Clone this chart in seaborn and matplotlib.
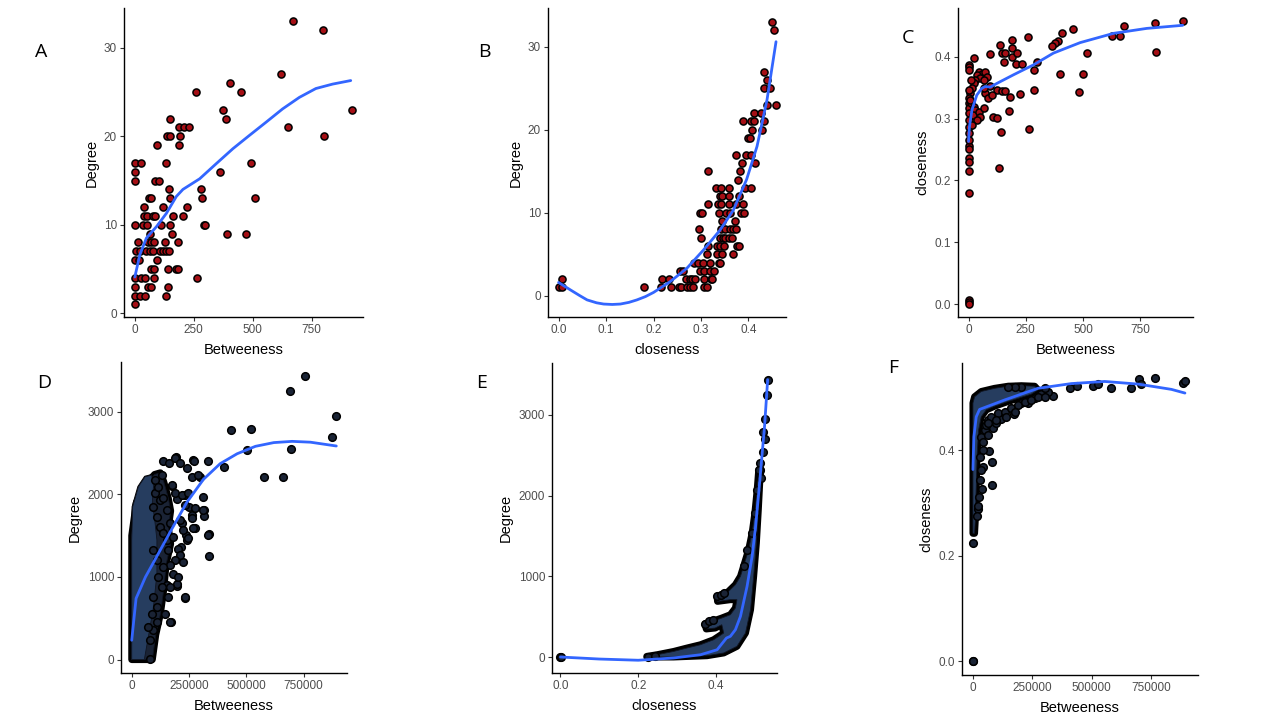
import numpy as np
import pandas as pd
import matplotlib
matplotlib.use('Agg')
import matplotlib.pyplot as plt
import seaborn as sns

# ---------------- top row (small network) ----------------
# A: Betweeness vs Degree
a_btw = [670, 800, 618, 402, 258, 450, 374, 921, 385, 649, 804, 151, 138, 151, 186, 210, 230, 190, 188, 94,
         0, 25, 134, 494, 0, 0, 85, 103, 361, 145, 279, 151, 62, 70, 285, 509, 38, 118, 223, 37,
         52, 75, 85, 162, 204, 0, 35, 52, 113, 151, 292, 297, 393, 471, 63, 159, 14, 56, 70, 82,
         127, 185, 4, 21, 49, 63, 78, 106, 118, 131, 145, 0, 18, 92, 70, 80, 141, 176, 183, 0,
         28, 42, 80, 264, 0, 56, 68, 141, 0, 21, 42, 131, 0]
a_deg = [33, 32, 27, 26, 25, 25, 23, 23, 22, 21, 20, 22, 20, 20, 21, 21, 21, 20, 19, 19,
         17, 17, 17, 17, 16, 15, 15, 15, 16, 14, 14, 13, 13, 13, 13, 13, 12, 12, 12, 11,
         11, 11, 11, 11, 11, 10, 10, 10, 10, 10, 10, 10, 9, 9, 9, 9, 8, 8, 8, 8,
         8, 8, 7, 7, 7, 7, 7, 7, 7, 7, 7, 6, 6, 6, 5, 5, 5, 5, 5, 4,
         4, 4, 4, 4, 3, 3, 3, 3, 2, 2, 2, 2, 1]
a_fit_x = [0, 21, 49, 92, 134, 176, 204, 275, 345, 416, 486, 557, 627, 698, 768, 839, 916]
a_fit_y = [4.1, 6.6, 8.5, 9.8, 11.3, 13.2, 14.0, 15.2, 16.9, 18.6, 20.1, 21.6, 23.1, 24.4, 25.4, 25.9, 26.3]

# B: closeness vs Degree
b_close = [0.450, 0.454, 0.433, 0.439, 0.432, 0.446, 0.458, 0.440, 0.411, 0.427,
           0.388, 0.406, 0.412, 0.433, 0.408, 0.428, 0.398, 0.404,
           0.373, 0.395, 0.406, 0.386, 0.414, 0.314, 0.383, 0.378,
           0.332, 0.342, 0.358, 0.393, 0.406, 0.340, 0.345, 0.359, 0.380,
           0.314, 0.335, 0.342, 0.359, 0.373, 0.389,
           0.297, 0.302, 0.338, 0.352, 0.360, 0.385, 0.391, 0.345, 0.371,
           0.296, 0.343, 0.350, 0.361, 0.367, 0.374,
           0.301, 0.339, 0.346, 0.351, 0.359, 0.365,
           0.314, 0.334, 0.341, 0.349, 0.375, 0.381,
           0.312, 0.333, 0.344, 0.368,
           0.286, 0.293, 0.304, 0.318, 0.337, 0.340,
           0.256, 0.261, 0.297, 0.307, 0.318, 0.328,
           0.007, 0.218, 0.232, 0.268, 0.276, 0.281, 0.287, 0.307, 0.321, 0.324,
           0.0, 0.007, 0.179, 0.216, 0.236, 0.253, 0.258, 0.270, 0.277, 0.284, 0.307, 0.312]
b_deg = [33, 32, 27, 26, 25, 25, 23, 23, 22, 22,
         21, 21, 21, 21, 20, 20, 19, 19,
         17, 17, 17, 16, 16, 15, 15, 14,
         13, 13, 13, 13, 13, 12, 12, 12, 12,
         11, 11, 11, 11, 11, 11,
         10, 10, 10, 10, 10, 10, 10, 9, 9,
         8, 8, 8, 8, 8, 8,
         7, 7, 7, 7, 7, 7,
         6, 6, 6, 6, 6, 6,
         5, 5, 5, 5,
         4, 4, 4, 4, 4, 4,
         3, 3, 3, 3, 3, 3,
         2, 2, 2, 2, 2, 2, 2, 2, 2, 2,
         1, 1, 1, 1, 1, 1, 1, 1, 1, 1, 1, 1]
b_fit_x = [0.0, 0.025, 0.045, 0.06, 0.08, 0.095, 0.113, 0.13, 0.148, 0.165, 0.183, 0.2, 0.235, 0.27, 0.305,
           0.34, 0.368, 0.396, 0.418, 0.439, 0.458]
b_fit_y = [1.6, 0.7, 0.0, -0.5, -0.85, -1.0, -1.05, -1.0, -0.8, -0.5, -0.1, 0.4, 1.7, 3.3, 5.5,
           7.9, 10.3, 14.0, 18.0, 23.6, 30.6]

# C: Betweeness vs closeness
c_btw = [936, 814, 819, 680, 660, 629, 456, 408, 390, 379, 366, 262, 517, 502, 400, 481, 287, 299, 284, 266,
         133, 0, 0, 0, 0, 0, 0, 0, 0, 0,
         0, 0, 0, 25, 95, 138, 146, 160, 153, 190, 190, 211, 208, 233, 189,
         44, 58, 73, 80, 37, 51, 66, 29, 22, 15, 7,
         0, 0, 0, 0, 0, 0, 0, 0, 0,
         10, 22, 29, 19, 44, 66, 51, 37, 15,
         95, 124, 146, 160, 73, 87, 66, 102, 182, 223, 109, 124, 179, 141, 10, 5]
c_close = [0.458, 0.454, 0.408, 0.450, 0.434, 0.434, 0.445, 0.439, 0.425, 0.423, 0.417, 0.432, 0.406, 0.372,
           0.372, 0.343, 0.346, 0.391, 0.379, 0.283,
           0.220, 0.179, 0.216, 0.236, 0.230, 0.255, 0.251, 0.006, 0.003, 0.0,
           0.387, 0.384, 0.379, 0.398, 0.405, 0.419, 0.406, 0.406, 0.392, 0.400, 0.414, 0.406, 0.389, 0.389, 0.428,
           0.376, 0.373, 0.375, 0.368, 0.371, 0.365, 0.363, 0.363, 0.357, 0.349, 0.341,
           0.346, 0.333, 0.325, 0.317, 0.309, 0.298, 0.287, 0.276, 0.266,
           0.325, 0.319, 0.314, 0.306, 0.311, 0.317, 0.303, 0.298, 0.290,
           0.352, 0.346, 0.344, 0.344, 0.341, 0.333, 0.349, 0.338, 0.335, 0.340, 0.303, 0.301, 0.313, 0.279, 0.362, 0.330]
c_fit_x = [0, 4, 15, 36, 58, 73, 95, 124, 197, 284, 371, 488, 634, 779, 936]
c_fit_y = [0.263, 0.287, 0.314, 0.338, 0.349, 0.352, 0.351, 0.357, 0.371, 0.387, 0.406, 0.423, 0.438, 0.446, 0.451]

# ---------------- bottom row (large network) ----------------
# D: Betweeness (thousands) vs Degree; the dense cloud is given by its outline
d_cloud_btw = [0, 0, 20, 60, 100, 125, 140, 160, 170, 160, 170, 150, 140, 125, 105, 95, 90]
d_cloud_deg = [0, 1500, 1900, 2120, 2240, 2260, 2150, 1950, 1800, 1600, 1400, 1150, 850, 550, 300, 100, 0]
d_core_btw = [0, 0, 4, 29, 58, 87, 95, 90, 100, 110, 110, 95, 75, 55]
d_core_deg = [0, 1445, 1848, 2091, 2212, 2232, 2100, 1900, 1700, 1445, 1041, 637, 315, 0]
d_btw = [432, 521, 403, 502, 578, 659, 696, 692, 757, 873, 893,
         138, 192, 240, 269, 296, 309, 316, 316, 278, 262, 248, 218, 237, 240, 214, 223, 197, 233, 336, 339,
         172, 175, 233, 197,
         164, 189, 211, 272, 332, 262, 291, 131, 102, 175, 189, 218, 247, 233, 277, 313, 211, 262, 269,
         335, 226, 247, 204, 211, 189, 167, 197, 153, 160, 233, 146, 167, 109, 94, 80, 80,
         94, 109, 124, 138, 153, 94, 109, 138, 116, 131, 94, 109, 87, 73, 124, 153, 102, 116, 138,
         167, 182, 160, 182, 204, 167]
d_deg = [2781, 2790, 2333, 2535, 2212, 2212, 2543, 3254, 3432, 2697, 2947,
         2406, 2446, 2313, 2414, 2212, 1970, 1809, 1736, 1587, 1748, 1849, 1647, 1506, 1445, 1365, 1175, 888, 751, 1518, 1255,
         456, 2099, 1990, 1938,
         2381, 2434, 2381, 2405, 2405, 2204, 2232, 2232, 2172, 2111, 2010, 1990, 2010, 1869, 1829, 1808, 1687, 1708, 1587,
         1505, 1566, 1465, 1344, 1263, 1203, 1142, 920, 900, 758, 758, 557, 455, 455, 355, 234, 12,
         1848, 1727, 1606, 1526, 1445, 1324, 1203, 1122, 1001, 880, 759, 637, 557, 395, 1929, 1808, 2010, 2091, 1949,
         1647, 1485, 1324, 1041, 1001, 880]
d_fit_x = [0, 19, 60, 94, 167, 240, 313, 386, 460, 540, 620, 700, 780, 893]
d_fit_y = [234, 740, 1000, 1170, 1540, 1900, 2180, 2370, 2490, 2580, 2625, 2640, 2630, 2584]

# E: closeness vs Degree
e_core_close = [0.222, 0.291, 0.377, 0.420, 0.454, 0.476, 0.489, 0.497, 0.504, 0.509, 0.513, 0.516,
                0.510, 0.506, 0.500, 0.493, 0.484, 0.471, 0.463, 0.450, 0.428, 0.403, 0.404, 0.437,
                0.454, 0.450, 0.437, 0.415, 0.390, 0.372, 0.375, 0.398, 0.415, 0.420, 0.394, 0.360,
                0.325, 0.291, 0.248, 0.222]
e_core_deg = [0, 0, 16, 50, 132, 297, 586, 999, 1413, 1825, 2197, 2321,
              2321, 2073, 1784, 1536, 1330, 1123, 999, 896, 793, 751, 689, 710,
              710, 607, 524, 483, 441, 413, 347, 359, 400, 297, 214, 152,
              111, 69, 28, 8]
e_close = [0.533, 0.532, 0.527, 0.521, 0.525, 0.521, 0.514, 0.513, 0.516, 0.0, 0.001, 0.224, 0.242,
           0.403, 0.412, 0.420, 0.372, 0.382, 0.392, 0.471, 0.480, 0.493, 0.500, 0.506, 0.510]
e_deg = [3432, 3246, 2945, 2792, 2698, 2545, 2401, 2318, 2215, 0, 5, 0, 12,
         751, 765, 790, 413, 440, 455, 1123, 1330, 1536, 1784, 2073, 2321]
e_fit_x = [0.0, 0.1, 0.2, 0.291, 0.360, 0.403, 0.427, 0.437, 0.450, 0.463, 0.480, 0.493, 0.502, 0.510,
           0.519, 0.525, 0.533]
e_fit_y = [0, -25, -40, -12, 28, 90, 235, 256, 338, 503, 875, 1247, 1619, 2032, 2528, 2858, 3436]

# F: Betweeness (thousands) vs closeness
f_core_btw = [0, 0, 0, 0, 7, 35, 91, 148, 204, 260, 274, 246, 204, 148, 91, 56, 35, 24, 18, 14, 10, 7]
f_core_close = [0.242, 0.362, 0.457, 0.489, 0.501, 0.511, 0.517, 0.521, 0.522, 0.521, 0.514, 0.506,
                0.500, 0.492, 0.483, 0.476, 0.463, 0.438, 0.394, 0.330, 0.267, 0.242]
f_btw = [408, 438, 506, 527, 583, 665, 700, 706, 766, 883, 893, 337, 172, 84, 67, 82, 80, 42, 42, 38, 21, 0, 0, 2,
         120, 99, 63, 204, 232, 260, 288, 316, 302, 204, 176, 148,
         35, 42, 49, 56, 63, 28, 35, 28, 24, 21, 18, 77, 106, 134, 162, 190, 218, 246, 274, 302, 176, 141, 99, 63]
f_close = [0.517, 0.521, 0.522, 0.525, 0.517, 0.517, 0.535, 0.525, 0.536, 0.527, 0.531, 0.502, 0.468, 0.441,
           0.399, 0.378, 0.334, 0.400, 0.368, 0.326, 0.288, 0.223, 0.0, 0.0,
           0.458, 0.451, 0.457, 0.489, 0.489, 0.498, 0.507, 0.510, 0.517, 0.520, 0.520, 0.520,
           0.425, 0.416, 0.438, 0.447, 0.428, 0.387, 0.362, 0.343, 0.311, 0.293, 0.274, 0.463, 0.470, 0.473,
           0.479, 0.485, 0.492, 0.495, 0.501, 0.501, 0.473, 0.463, 0.457, 0.451]
f_fit_x = [0, 4, 14, 28, 134, 274, 415, 555, 696, 836, 893]
f_fit_y = [0.363, 0.425, 0.463, 0.477, 0.495, 0.517, 0.526, 0.530, 0.525, 0.515, 0.508]

K = 1000
RED = '#a50f15'
NAVY = '#263d5f'
DARK = '#1a2335'
BLUE = '#3366FF'

sns.set_style('ticks')
plt.rcParams['font.family'] = ['Liberation Sans', 'DejaVu Sans']

fig = plt.figure(figsize=(12.8, 7.2), dpi=100)


def make_ax(px_left, px_top, px_right, px_bottom):
    return fig.add_axes([px_left / 1280, 1 - px_bottom / 720, (px_right - px_left) / 1280,
                         (px_bottom - px_top) / 720])


def style_ax(ax, xlim, ylim, xticks, xlabels, yticks, ylabels, xlab, ylab):
    ax.set_xlim(*xlim)
    ax.set_ylim(*ylim)
    ax.set_xticks(xticks)
    ax.set_xticklabels(xlabels)
    ax.set_yticks(yticks)
    ax.set_yticklabels(ylabels)
    ax.set_xlabel(xlab, fontsize=10.5, color='black', labelpad=5)
    ax.set_ylabel(ylab, fontsize=10.5, color='black', labelpad=4)
    for side in ['top', 'right']:
        ax.spines[side].set_visible(False)
    for side in ['left', 'bottom']:
        ax.spines[side].set_color('black')
        ax.spines[side].set_linewidth(1.0)
    ax.tick_params(length=3, width=0.8, color='#333333', labelsize=8.5, labelcolor='#4d4d4d', pad=2)
    ax.grid(False)


def dots(ax, x, y, fill, size=26):
    sns.scatterplot(x=x, y=y, ax=ax, color=fill, edgecolor='black', linewidth=1.1, s=size,
                    legend=False, zorder=3)


def blob(ax, x, y, face, rim=5):
    # black rim outside the outline stands for the point borders, then the fill on top
    ax.fill(x, y, facecolor='black', edgecolor='black', linewidth=rim, joinstyle='round', zorder=2)
    ax.fill(x, y, facecolor=face, edgecolor='#101522', linewidth=0.6, zorder=2.1)


def fit(ax, x, y):
    sns.lineplot(x=x, y=y, ax=ax, color=BLUE, linewidth=2.0, estimator=None, zorder=4)


# A
ax = make_ax(124, 8, 363, 317)
dots(ax, a_btw, a_deg, RED)
fit(ax, a_fit_x, a_fit_y)
style_ax(ax, (-46, 968), (-0.42, 34.5), [0, 250, 500, 750], ['0', '250', '500', '750'],
         [0, 10, 20, 30], ['0', '10', '20', '30'], 'Betweeness', 'Degree')

# B
ax = make_ax(548, 8, 786, 317)
dots(ax, b_close, b_deg, RED)
fit(ax, b_fit_x, b_fit_y)
style_ax(ax, (-0.0223, 0.479), (-2.56, 34.66), [0, 0.1, 0.2, 0.3, 0.4], ['0.0', '0.1', '0.2', '0.3', '0.4'],
         [0, 10, 20, 30], ['0', '10', '20', '30'], 'closeness', 'Degree')

# C
ax = make_ax(958, 8, 1193, 317)
dots(ax, c_btw, c_close, RED)
fit(ax, c_fit_x, c_fit_y)
style_ax(ax, (-46, 981), (-0.021, 0.479), [0, 250, 500, 750], ['0', '250', '500', '750'],
         [0, 0.1, 0.2, 0.3, 0.4], ['0.0', '0.1', '0.2', '0.3', '0.4'], 'Betweeness', 'closeness')

# D
ax = make_ax(121, 362, 347, 673)
blob(ax, [v * K for v in d_cloud_btw], d_cloud_deg, DARK)
blob(ax, [v * K for v in d_core_btw], d_core_deg, NAVY, rim=1.5)
dots(ax, [v * K for v in d_btw], d_deg, DARK, size=30)
fit(ax, [v * K for v in d_fit_x], d_fit_y)
style_ax(ax, (-46800, 939700), (-162, 3600), [0, 250000, 500000, 750000], ['0', '250000', '500000', '750000'],
         [0, 1000, 2000, 3000], ['0', '1000', '2000', '3000'], 'Betweeness', 'Degree')

# E
ax = make_ax(552, 363, 777, 673)
blob(ax, e_core_close, e_core_deg, NAVY)
dots(ax, e_close, e_deg, DARK, size=30)
fit(ax, e_fit_x, e_fit_y)
style_ax(ax, (-0.0217, 0.557), (-198, 3642), [0, 0.2, 0.4], ['0.0', '0.2', '0.4'],
         [0, 1000, 2000, 3000], ['0', '1000', '2000', '3000'], 'closeness', 'Degree')

# F
ax = make_ax(962, 363, 1198, 675)
blob(ax, [v * K for v in f_core_btw], f_core_close, NAVY)
dots(ax, [v * K for v in f_btw], f_close, DARK, size=30)
fit(ax, [v * K for v in f_fit_x], f_fit_y)
style_ax(ax, (-46000, 948000), (-0.0265, 0.565), [0, 250000, 500000, 750000], ['0', '250000', '500000', '750000'],
         [0, 0.2, 0.4], ['0.0', '0.2', '0.4'], 'Betweeness', 'closeness')

# panel letters
for letter, x, y in [('A', 41, 52), ('B', 484, 52), ('C', 908, 38),
                     ('D', 44, 383), ('E', 482, 383), ('F', 893, 368)]:
    fig.text(x / 1280, 1 - y / 720, letter, fontsize=14, ha='center', va='center',
             family=['Open Sans', 'DejaVu Sans'], color='black')

fig.savefig('out.png', dpi=100, facecolor='white')
